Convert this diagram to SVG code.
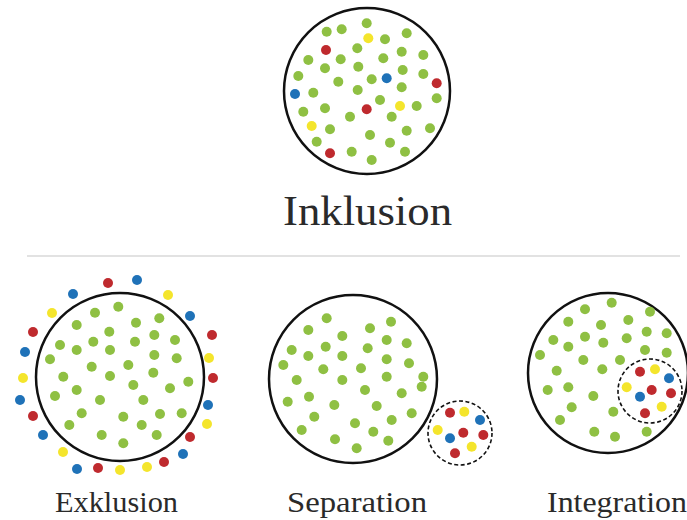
<svg xmlns="http://www.w3.org/2000/svg" width="687" height="520" viewBox="0 0 687 520">
<defs>
<style>
.ring{fill:#fff;stroke:#111;stroke-width:2.5}
.dash{fill:#fff;stroke:#111;stroke-width:1.6;stroke-dasharray:4 2.5}
.g{fill:#8fc043}
.r{fill:#bf2a2e}
.b{fill:#1f72b8}
.y{fill:#f4e52c}
.lbl{font-family:"Liberation Serif","Times New Roman",serif;fill:#2a2a2a}
</style>
</defs>
<rect width="687" height="520" fill="#fff"/>
<g id="connectors">
<line x1="27" y1="256" x2="680" y2="256" stroke="#e2e2e2" stroke-width="2"/>
</g>
<g id="inklusion">
<circle class="ring" cx="367" cy="91" r="83"/>
<g class="g">
<circle cx="366.7" cy="23.3" r="5"/><circle cx="326.7" cy="31.7" r="5"/><circle cx="341.7" cy="29.3" r="5"/><circle cx="406.7" cy="33.3" r="5"/>
<circle cx="385" cy="39.3" r="5"/><circle cx="357.3" cy="48.3" r="5"/><circle cx="401.7" cy="51.7" r="5"/><circle cx="423.3" cy="55" r="5"/>
<circle cx="308.3" cy="60" r="5"/><circle cx="340.7" cy="59.3" r="5"/><circle cx="383.3" cy="58.3" r="5"/><circle cx="325" cy="68.3" r="5"/>
<circle cx="358.3" cy="66.7" r="5"/><circle cx="402.7" cy="70" r="5"/><circle cx="423.3" cy="74" r="5"/><circle cx="298.3" cy="76" r="5"/>
<circle cx="338.3" cy="81.7" r="5"/><circle cx="371.7" cy="79.3" r="5"/><circle cx="401.7" cy="87.3" r="5"/><circle cx="313.3" cy="92.7" r="5"/>
<circle cx="357.7" cy="90" r="5"/><circle cx="436.7" cy="98.3" r="5"/><circle cx="380" cy="100" r="5"/><circle cx="416.7" cy="106" r="5"/>
<circle cx="303.3" cy="111.7" r="5"/><circle cx="325" cy="108.3" r="5"/><circle cx="350" cy="116.7" r="5"/><circle cx="391.7" cy="116.7" r="5"/>
<circle cx="330" cy="129.3" r="5"/><circle cx="370" cy="135" r="5"/><circle cx="406.7" cy="130.7" r="5"/><circle cx="430" cy="128.3" r="5"/>
<circle cx="316.7" cy="141.7" r="5"/><circle cx="390" cy="142.7" r="5"/><circle cx="351.7" cy="151.7" r="5"/><circle cx="405" cy="151.7" r="5"/>
<circle cx="371.7" cy="160" r="5"/>
</g>
<g class="y"><circle cx="368.3" cy="38.3" r="5"/><circle cx="400" cy="106" r="5"/><circle cx="311.7" cy="126" r="5"/></g>
<g class="r"><circle cx="326" cy="50" r="5"/><circle cx="436.7" cy="83.3" r="5"/><circle cx="366.7" cy="109.3" r="5"/><circle cx="330" cy="153.3" r="5"/></g>
<g class="b"><circle cx="386.7" cy="78.3" r="5"/><circle cx="295" cy="94" r="5"/></g>
<text class="lbl" x="283" y="225" font-size="42" textLength="169" lengthAdjust="spacingAndGlyphs">Inklusion</text>
</g>
<g id="exklusion">
<circle class="ring" cx="120" cy="377" r="84"/>
<g class="g">
<circle cx="118.3" cy="306.7" r="5"/><circle cx="95" cy="312.7" r="5"/><circle cx="159.3" cy="318.3" r="5"/><circle cx="76.7" cy="325" r="5"/>
<circle cx="136" cy="322.7" r="5"/><circle cx="109.3" cy="331.7" r="5"/><circle cx="154.3" cy="335" r="5"/><circle cx="175" cy="340" r="5"/>
<circle cx="60" cy="345" r="5"/><circle cx="76.7" cy="350" r="5"/><circle cx="93.3" cy="341.7" r="5"/><circle cx="135" cy="341.7" r="5"/>
<circle cx="110" cy="350" r="5"/><circle cx="154.3" cy="355" r="5"/><circle cx="176.7" cy="358.3" r="5"/><circle cx="50" cy="359.3" r="5"/>
<circle cx="91.7" cy="366.7" r="5"/><circle cx="128.3" cy="365" r="5"/><circle cx="153.3" cy="372.7" r="5"/><circle cx="63.3" cy="376.7" r="5"/>
<circle cx="110" cy="376" r="5"/><circle cx="188.3" cy="381.7" r="5"/><circle cx="133.3" cy="385" r="5"/><circle cx="76.7" cy="390" r="5"/>
<circle cx="170" cy="388.3" r="5"/><circle cx="55" cy="396" r="5"/><circle cx="100" cy="400" r="5"/><circle cx="143.3" cy="400" r="5"/>
<circle cx="81.7" cy="413.3" r="5"/><circle cx="123.3" cy="416.7" r="5"/><circle cx="160" cy="414" r="5"/><circle cx="181.7" cy="413.3" r="5"/>
<circle cx="69.3" cy="425" r="5"/><circle cx="141.7" cy="425" r="5"/><circle cx="101.7" cy="435" r="5"/><circle cx="156.7" cy="435" r="5"/>
<circle cx="123.3" cy="443.3" r="5"/>
</g>
<g class="r">
<circle cx="108" cy="283" r="5"/><circle cx="33" cy="332" r="5"/><circle cx="212" cy="335" r="5"/><circle cx="213" cy="378" r="5"/>
<circle cx="33" cy="416" r="5"/><circle cx="190" cy="437" r="5"/><circle cx="98" cy="468" r="5"/><circle cx="164" cy="462" r="5"/>
</g>
<g class="b">
<circle cx="137" cy="280" r="5"/><circle cx="73" cy="294" r="5"/><circle cx="190" cy="316" r="5"/><circle cx="25" cy="352" r="5"/>
<circle cx="20" cy="400" r="5"/><circle cx="208" cy="405" r="5"/><circle cx="43" cy="435" r="5"/><circle cx="183" cy="454" r="5"/>
<circle cx="77" cy="469" r="5"/>
</g>
<g class="y">
<circle cx="168" cy="295" r="5"/><circle cx="52" cy="313" r="5"/><circle cx="209" cy="358" r="5"/><circle cx="23" cy="378" r="5"/>
<circle cx="207" cy="424" r="5"/><circle cx="63" cy="452" r="5"/><circle cx="120" cy="470" r="5"/><circle cx="147" cy="467" r="5"/>
</g>
<text class="lbl" x="55" y="512" font-size="30" textLength="123" lengthAdjust="spacingAndGlyphs">Exklusion</text>
</g>
<g id="separation">
<circle class="ring" cx="353" cy="379" r="84"/>
<g class="g">
<circle cx="326.7" cy="318.3" r="5"/><circle cx="391" cy="321.7" r="5"/><circle cx="308.3" cy="330" r="5"/><circle cx="370" cy="328.3" r="5"/>
<circle cx="342.3" cy="336" r="5"/><circle cx="386.7" cy="340" r="5"/><circle cx="406.7" cy="343.3" r="5"/><circle cx="291.7" cy="350" r="5"/>
<circle cx="325.7" cy="346.7" r="5"/><circle cx="367.7" cy="348.3" r="5"/><circle cx="308.3" cy="356" r="5"/><circle cx="342.3" cy="356" r="5"/>
<circle cx="386.7" cy="359.3" r="5"/><circle cx="409" cy="363.3" r="5"/><circle cx="283.3" cy="365" r="5"/><circle cx="323.3" cy="369.3" r="5"/>
<circle cx="361" cy="368.3" r="5"/><circle cx="423.3" cy="376.7" r="5"/><circle cx="386.7" cy="376.7" r="5"/><circle cx="296.7" cy="380" r="5"/>
<circle cx="342.3" cy="380" r="5"/><circle cx="421.7" cy="386.7" r="5"/><circle cx="365" cy="390" r="5"/><circle cx="401.7" cy="393.3" r="5"/>
<circle cx="309" cy="396.7" r="5"/><circle cx="287.7" cy="401.7" r="5"/><circle cx="334.3" cy="405" r="5"/><circle cx="376.7" cy="406" r="5"/>
<circle cx="314.3" cy="416.7" r="5"/><circle cx="411.7" cy="413.3" r="5"/><circle cx="355" cy="423.3" r="5"/><circle cx="391.7" cy="420" r="5"/>
<circle cx="301.7" cy="430" r="5"/><circle cx="373.3" cy="431.7" r="5"/><circle cx="335" cy="439.3" r="5"/><circle cx="388.3" cy="440.7" r="5"/>
<circle cx="356.7" cy="448.3" r="5"/>
</g>
<circle class="dash" cx="460" cy="433" r="32"/>
<g class="r"><circle cx="450" cy="412.7" r="5"/><circle cx="463.3" cy="432.7" r="5"/><circle cx="483.3" cy="435" r="5"/><circle cx="455" cy="453.3" r="5"/></g>
<g class="y"><circle cx="464.3" cy="411.7" r="5"/><circle cx="437.7" cy="430" r="5"/><circle cx="471.7" cy="446.7" r="5"/></g>
<g class="b"><circle cx="480" cy="420" r="5"/><circle cx="450" cy="438.3" r="5"/></g>
<text class="lbl" x="287" y="512" font-size="30" textLength="140" lengthAdjust="spacingAndGlyphs">Separation</text>
</g>
<g id="integration">
<circle class="ring" cx="608" cy="373" r="80"/>
<g class="g">
<circle cx="611.7" cy="302.7" r="5"/><circle cx="585" cy="309.3" r="5"/><circle cx="650" cy="311.7" r="5"/><circle cx="568.3" cy="321.7" r="5"/>
<circle cx="601" cy="325" r="5"/><circle cx="628.3" cy="320" r="5"/><circle cx="646.7" cy="331.7" r="5"/><circle cx="666.7" cy="333.3" r="5"/>
<circle cx="553.3" cy="340" r="5"/><circle cx="585" cy="336.7" r="5"/><circle cx="603.3" cy="342.7" r="5"/><circle cx="626.7" cy="338.3" r="5"/>
<circle cx="568.3" cy="346.7" r="5"/><circle cx="645" cy="350" r="5"/><circle cx="666.7" cy="352.7" r="5"/><circle cx="540" cy="355" r="5"/>
<circle cx="583.3" cy="360" r="5"/><circle cx="620" cy="360" r="5"/><circle cx="602.3" cy="369.3" r="5"/><circle cx="556.7" cy="370.7" r="5"/>
<circle cx="547.7" cy="390" r="5"/><circle cx="568.3" cy="387.3" r="5"/><circle cx="593.3" cy="396" r="5"/><circle cx="571.7" cy="407.3" r="5"/>
<circle cx="613.3" cy="411.7" r="5"/><circle cx="560" cy="420" r="5"/><circle cx="594.3" cy="431.7" r="5"/><circle cx="615" cy="436.7" r="5"/>
<circle cx="646.7" cy="431.7" r="5"/>
</g>
<circle class="dash" cx="650" cy="391" r="32"/>
<g class="r"><circle cx="640" cy="371.7" r="5"/><circle cx="651.7" cy="390" r="5"/><circle cx="671" cy="393.3" r="5"/><circle cx="645" cy="413.3" r="5"/></g>
<g class="y"><circle cx="655" cy="369.3" r="5"/><circle cx="626.7" cy="387.3" r="5"/><circle cx="661.7" cy="406.7" r="5"/></g>
<g class="b"><circle cx="669" cy="378.3" r="5"/><circle cx="640" cy="396.7" r="5"/></g>
<text class="lbl" x="547" y="512" font-size="30" textLength="140" lengthAdjust="spacingAndGlyphs">Integration</text>
</g>
</svg>
